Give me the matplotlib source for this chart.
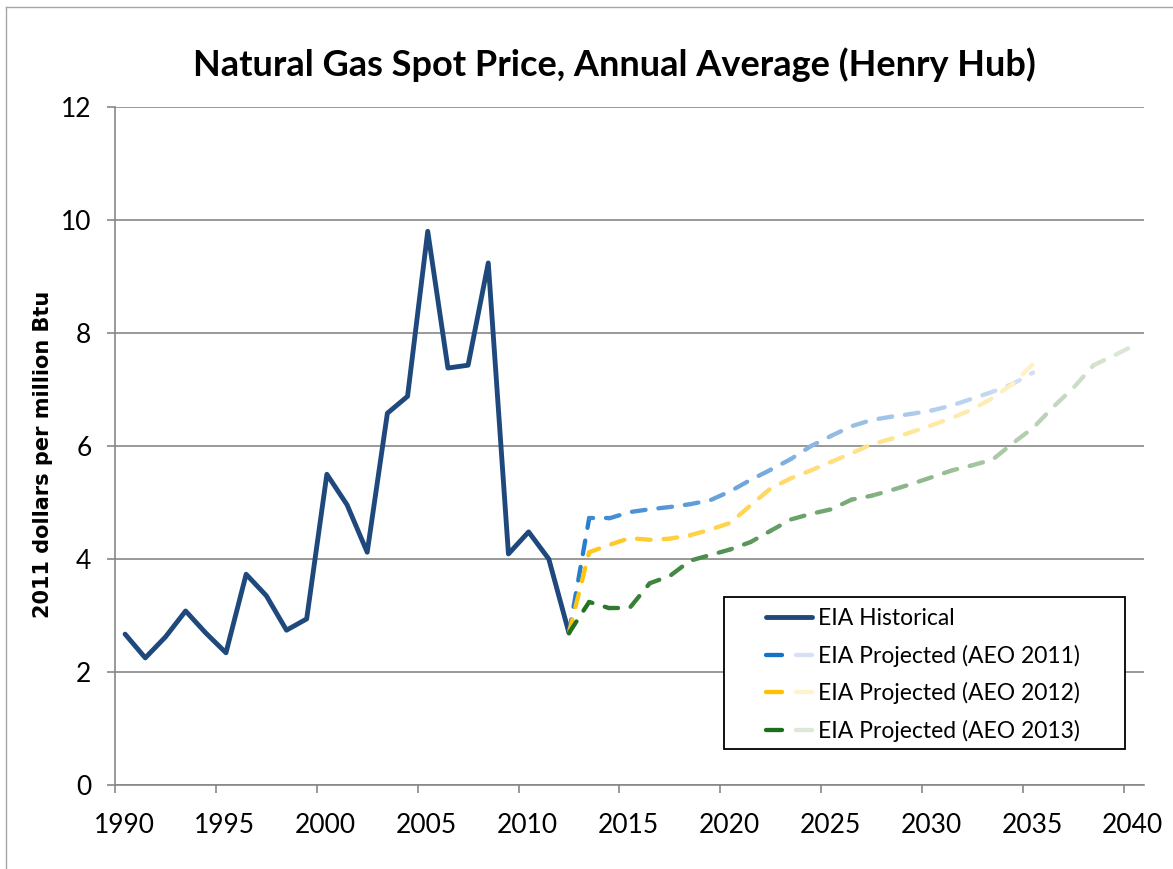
import numpy as np
import matplotlib
matplotlib.use("Agg")
import matplotlib.pyplot as plt
from matplotlib.collections import LineCollection
from matplotlib.lines import Line2D
from matplotlib.patches import Rectangle
from matplotlib.legend_handler import HandlerTuple
import matplotlib.transforms as mtransforms
import matplotlib.colors as mcolors

# Henry Hub annual average, 2011 $/MMBtu
hist_years = list(range(1990, 2013))
hist_price = [2.67, 2.25, 2.62, 3.08, 2.69, 2.34, 3.73, 3.35, 2.74, 2.94,
              5.50, 4.96, 4.12, 6.58, 6.88, 9.80, 7.38, 7.43, 9.24, 4.09,
              4.48, 4.00, 2.69]

aeo2011_years = list(range(2012, 2036))
aeo2011_price = [2.69, 4.72, 4.72, 4.83, 4.88, 4.92, 4.97, 5.04, 5.20, 5.40,
                 5.58, 5.77, 6.00, 6.18, 6.35, 6.46, 6.52, 6.57, 6.63, 6.72,
                 6.84, 6.96, 7.10, 7.30]

aeo2012_years = list(range(2012, 2036))
aeo2012_price = [2.69, 4.12, 4.25, 4.37, 4.34, 4.36, 4.42, 4.52, 4.64, 4.95,
                 5.25, 5.43, 5.57, 5.72, 5.87, 6.03, 6.13, 6.25, 6.37, 6.50,
                 6.65, 6.85, 7.10, 7.45]

aeo2013_years = list(range(2012, 2041))
aeo2013_price = [2.69, 3.24, 3.13, 3.13, 3.57, 3.70, 3.97, 4.07, 4.17, 4.30,
                 4.50, 4.70, 4.80, 4.88, 5.05, 5.12, 5.22, 5.33, 5.45, 5.57,
                 5.66, 5.76, 6.05, 6.32, 6.69, 7.03, 7.43, 7.60, 7.78]

labels = ["EIA Historical", "EIA Projected (AEO 2011)",
          "EIA Projected (AEO 2012)", "EIA Projected (AEO 2013)"]

HIST_COLOR = "#1f497d"
GRADIENTS = [("#1573c7", "#d5e1f5"), ("#ffc000", "#fff2cc"), ("#1b6e1b", "#dde9d8")]
GRID = "#878787"
MID = 0.5  # points sit at mid-year on the date axis
LW = 3.1
DASH = (3.2, 3.0)

W, H, DPI = 1173, 869, 100
fig = plt.figure(figsize=(W / DPI, H / DPI), dpi=DPI)
ax = fig.add_axes([115 / W, 1 - 785 / H, (1144 - 115) / W, (785 - 107) / H])

ax.set_xlim(1990, 2041)
ax.set_ylim(0, 12)
ax.set_yticks(range(0, 13, 2))
ax.set_xticks(range(1990, 2041, 5))
ax.yaxis.grid(True, color=GRID, lw=1.2)
ax.set_axisbelow(True)
for s in ("top", "right"):
    ax.spines[s].set_visible(False)
for s in ("left", "bottom"):
    ax.spines[s].set_color(GRID)
    ax.spines[s].set_linewidth(1.2)
ax.tick_params(axis="both", direction="out", length=6, width=1.2, color=GRID,
               labelsize=19)
ax.tick_params(axis="y", pad=11)
ax.tick_params(axis="x", pad=14)
for lab in ax.get_xticklabels() + ax.get_yticklabels():
    lab.set_fontfamily("Lato")
shift = mtransforms.ScaledTranslation(9 / DPI, 0, fig.dpi_scale_trans)
for lab in ax.get_xticklabels():
    lab.set_transform(lab.get_transform() + shift)

ax.plot(np.array(hist_years) + MID, hist_price, color=HIST_COLOR, lw=3.5,
        solid_joinstyle="round", solid_capstyle="round", zorder=2)


def gradient_dashed(ax, years, values, c0, c1):
    x = np.array(years, dtype=float) + MID
    y = np.array(values, dtype=float)
    pts = ax.transData.transform(np.column_stack([x, y]))
    seg_px = np.hypot(np.diff(pts[:, 0]), np.diff(pts[:, 1]))
    start_px = np.concatenate([[0], np.cumsum(seg_px)])[:-1]
    # keep the dash pattern running across segment joins
    offsets = start_px * 72 / DPI / LW
    styles = [(off, DASH) for off in offsets]
    segs = [[(x[i], y[i]), (x[i + 1], y[i + 1])] for i in range(len(x) - 1)]
    t = np.clip((start_px + seg_px / 2) / seg_px.sum(), 0, 1)
    a = np.array(mcolors.to_rgb(c0))
    b = np.array(mcolors.to_rgb(c1))
    cols = [tuple(a + (b - a) * tt) for tt in t]
    lc = LineCollection(segs, colors=cols, linewidths=LW, linestyles=styles,
                        capstyle="round", joinstyle="round", zorder=3)
    ax.add_collection(lc)


gradient_dashed(ax, aeo2011_years, aeo2011_price, *GRADIENTS[0])
gradient_dashed(ax, aeo2012_years, aeo2012_price, *GRADIENTS[1])
gradient_dashed(ax, aeo2013_years, aeo2013_price, *GRADIENTS[2])

# legend
handles = [Line2D([], [], color=HIST_COLOR, lw=3.5, solid_capstyle="round")]
for c0, c1 in GRADIENTS:
    handles.append((Line2D([], [], color=c0, lw=LW, solid_capstyle="round"),
                    Line2D([], [], color=c1, lw=LW, solid_capstyle="round")))
box = Rectangle((724 / W, 1 - 749 / H), (1125 - 724) / W, (749 - 597) / H,
                transform=fig.transFigure, facecolor="white", edgecolor="black",
                lw=1.3, zorder=4, clip_on=False)
ax.add_patch(box)
leg = ax.legend(handles, labels, loc="upper left",
                bbox_to_anchor=(766 / W, 1 - 608 / H),
                bbox_transform=fig.transFigure, frameon=False,
                prop={"family": "Lato", "size": 16.5}, borderpad=0,
                borderaxespad=0, handlelength=2.0, handletextpad=0.25,
                labelspacing=0.68,
                handler_map={tuple: HandlerTuple(ndivide=None, pad=0.6)})
leg.set_zorder(5)

fig.text(614 / W, 1 - 65 / H, "Natural Gas Spot Price, Annual Average (Henry Hub)",
         ha="center", va="center", fontsize=26, fontweight="bold", family="Lato")
fig.text(43 / W, 1 - 454 / H, "2011 dollars per million Btu", rotation=90,
         ha="center", va="center", fontsize=15, fontweight="bold",
         family="DejaVu Sans")

# outer chart frame
fig.add_artist(Line2D([6 / W, 6 / W], [0, 1 - 7 / H], transform=fig.transFigure,
                      color="#a6a6a6", lw=1.0))
fig.add_artist(Line2D([6 / W, 1], [1 - 7 / H, 1 - 7 / H], transform=fig.transFigure,
                      color="#a6a6a6", lw=1.0))

fig.savefig("out.png", dpi=DPI)
